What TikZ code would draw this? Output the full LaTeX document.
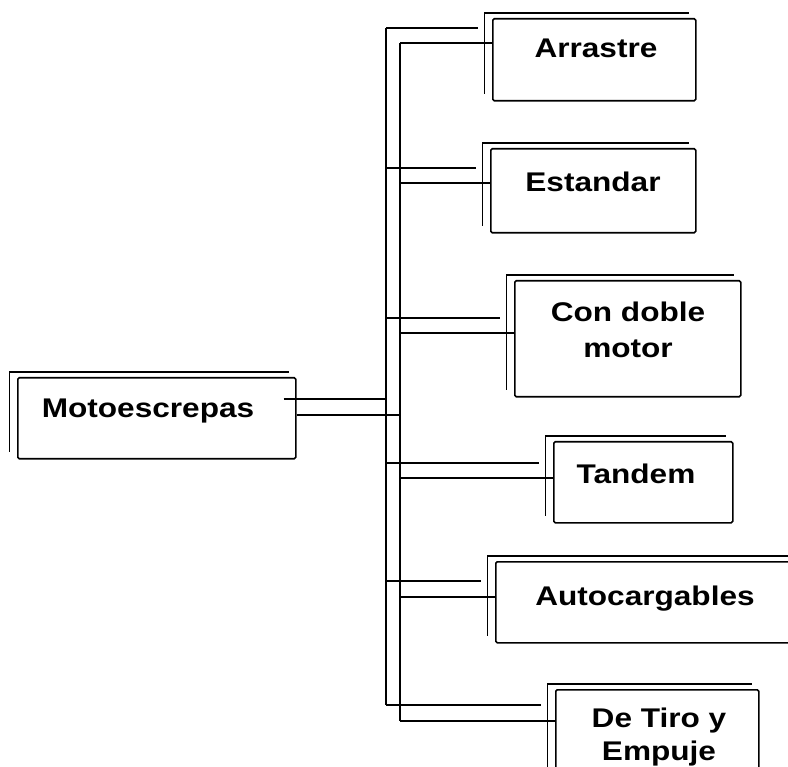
\documentclass[tikz,border=0pt]{standalone}
\usepackage{fontspec}
\newfontfamily\lblfont{Liberation Sans}[FakeStretch=1.17]
\begin{document}
\begin{tikzpicture}[x=1pt,y=-1pt,
  front/.style={draw, line width=1.6pt, fill=white, rectangle, rounded corners=1.5pt,
    inner sep=0pt, anchor=north west},
  lbl/.style={font=\lblfont\bfseries\fontsize{27}{36}\selectfont, inner sep=0pt, anchor=base},
  backtop/.style={line width=2.6pt},
  backleft/.style={line width=0.8pt},
  conn/.style={line width=1.4pt}]
\useasboundingbox (0,0) rectangle (788,767);
\clip (0,0) rectangle (788,767);
\fill[white] (0,0) rectangle (788,767);

% boxes
\node[front, minimum width=278pt, minimum height=81pt]  (mot) at (17,377) {};
\node[front, minimum width=203pt, minimum height=82pt]  (arr) at (492,18) {};
\node[front, minimum width=205pt, minimum height=84pt]  (est) at (490,148) {};
\node[front, minimum width=226pt, minimum height=116pt] (con) at (514,280) {};
\node[front, minimum width=179pt, minimum height=81pt]  (tan) at (553,441) {};
\node[front, minimum width=310pt, minimum height=81pt]  (aut) at (495,561) {};
\node[front, minimum width=203pt, minimum height=120pt] (dtr) at (555,689) {};

% back outlines
\foreach \n in {mot,arr,est,con,tan,aut,dtr}{
  \draw[backtop] ([shift={(-8pt,5pt)}]\n.north west) -- ([shift={(-8pt,5pt)}]\n.north east);
  \draw[backleft] ([shift={(-8pt,5pt)}]\n.north west) -- ([shift={(-8pt,8pt)}]\n.south west);
}

% labels
\node[lbl] (motT)  at (148,418) {Motoescrepas};
\node[lbl] (arrT)  at (596,58)  {Arrastre};
\node[lbl] (estT)  at (593,192) {Estandar};
\node[lbl] (conT1) at (628,322) {Con doble};
\node[lbl] (conT2) at (628,358) {motor};
\node[lbl] (tanT)  at (636,483) {Tandem};
\node[lbl] (autT)  at (645,605) {Autocargables};
\node[lbl] (dtrT1) at (659,727) {De Tiro y};
\node[lbl] (dtrT2) at (659,760) {Empuje};

% trunk points
\coordinate (oA) at (386,28);  \coordinate (iA) at (400,43);
\coordinate (oB) at (386,168); \coordinate (iB) at (400,183);
\coordinate (oC) at (386,318); \coordinate (iC) at (400,333);
\coordinate (oM) at (386,399); \coordinate (iM) at (400,415);
\coordinate (oD) at (386,463); \coordinate (iD) at (400,478);
\coordinate (oE) at (386,581); \coordinate (iE) at (400,597);
\coordinate (oF) at (386,705); \coordinate (iF) at (400,721);

% trunks
\draw[conn] (oA) -- (oF);
\draw[conn] (iA) -- (iF);

% parent connectors
\draw[conn] ([xshift=-13pt]oM -| mot.east) -- (oM);
\draw[conn] (iM -| mot.east) -- (iM);

% child connectors
\foreach \o/\i/\n in {oA/iA/arr, oB/iB/est, oC/iC/con, oD/iD/tan, oE/iE/aut, oF/iF/dtr}{
  \draw[conn] (\o) -- ([xshift=-14pt]\o -| \n.west);
  \draw[conn] (\i) -- (\i -| \n.west);
}
\end{tikzpicture}
\end{document}
